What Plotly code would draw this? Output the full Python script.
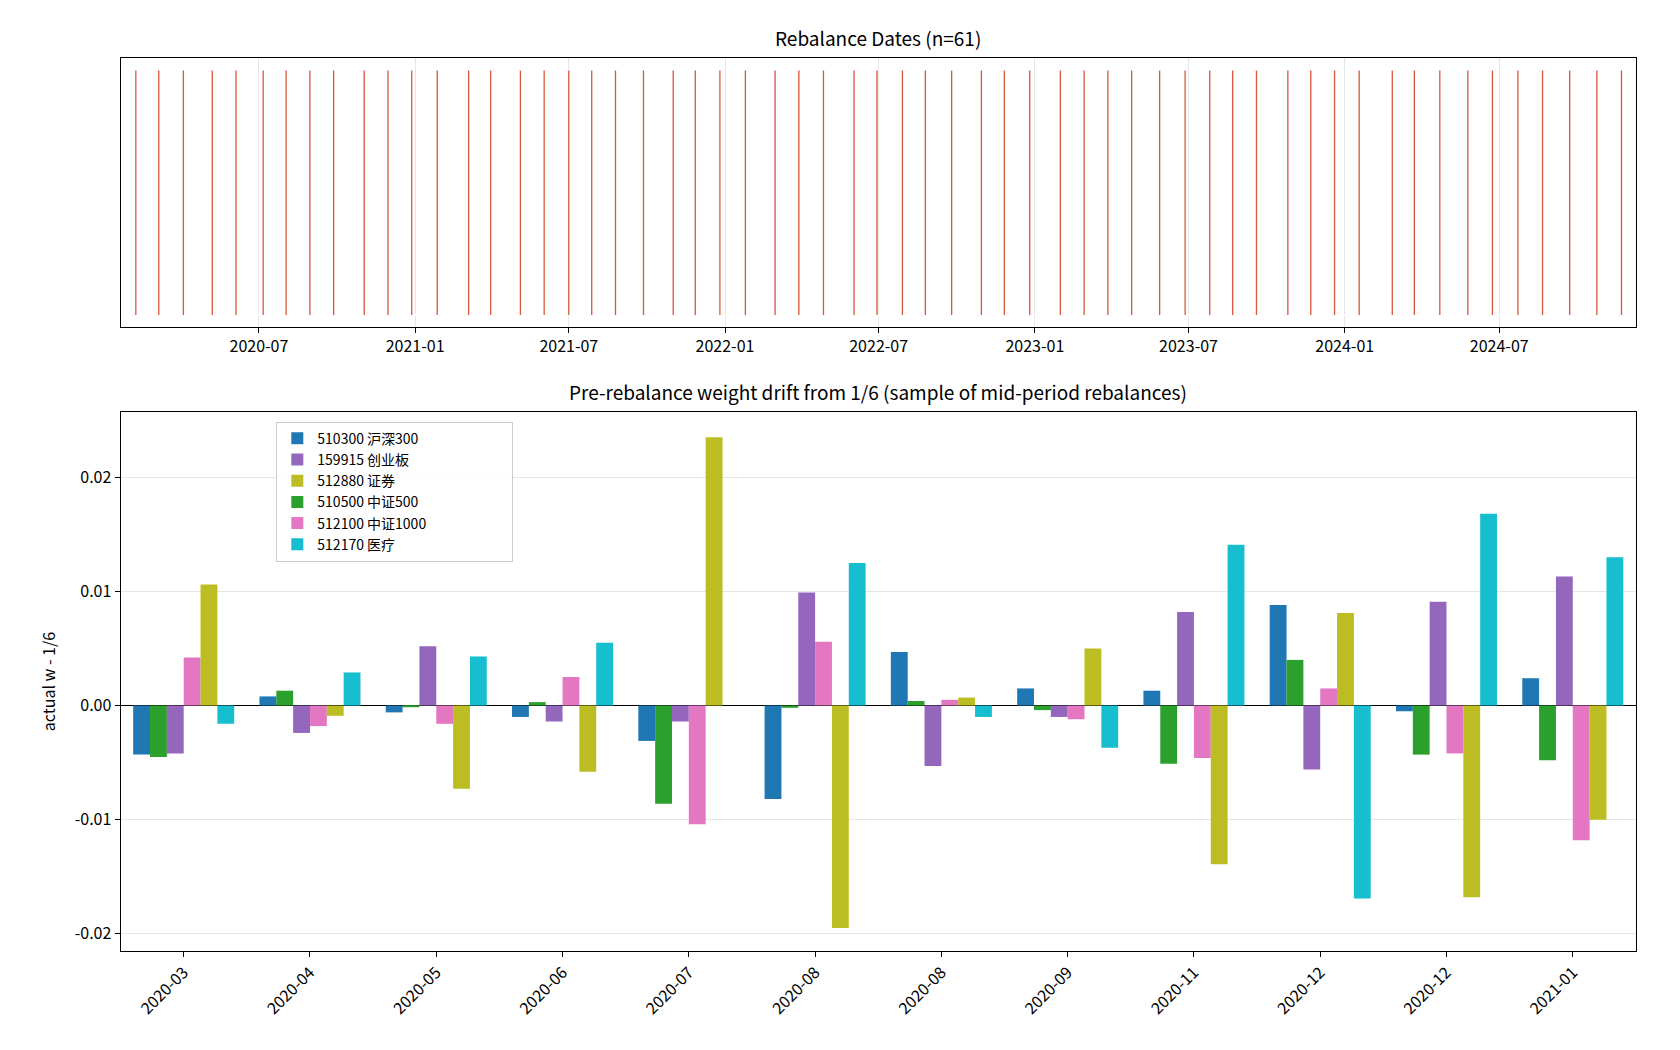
import plotly.graph_objects as go

rebalance_dates = [
 "2020-02-07","2020-03-05","2020-04-03","2020-05-07","2020-06-04","2020-07-06","2020-08-02","2020-08-30",
 "2020-09-27","2020-11-02","2020-11-30","2020-12-28","2021-01-27","2021-03-05","2021-03-31","2021-05-05",
 "2021-06-02","2021-07-01","2021-07-28","2021-08-25","2021-09-27","2021-11-01","2021-11-27","2021-12-26",
 "2022-01-25","2022-03-01","2022-03-29","2022-04-27","2022-06-02","2022-06-29","2022-07-29","2022-08-25",
 "2022-09-25","2022-10-30","2022-11-26","2022-12-26","2023-01-31","2023-02-28","2023-03-28","2023-04-25",
 "2023-05-28","2023-06-27","2023-07-26","2023-08-22","2023-09-19","2023-10-26","2023-11-22","2023-12-20",
 "2024-01-18","2024-02-26","2024-03-23","2024-04-22","2024-05-25","2024-06-23","2024-07-23","2024-08-21",
 "2024-09-22","2024-10-24","2024-11-22"]

group_labels = ["2020-03","2020-04","2020-05","2020-06","2020-07","2020-08","2020-08","2020-09",
                "2020-11","2020-12","2020-12","2021-01"]
series_names = ["510300 沪深300","510500 中证500","159915 创业板","512100 中证1000","512880 证券","512170 医疗"]
series_colors = ["#1f77b4","#2ca02c","#9467bd","#e377c2","#bcbd22","#17becf"]
drift = [
 [-0.0043,0.0008,-0.0006,-0.0010,-0.0031,-0.0082,0.0047,0.0015,0.0013,0.0088,-0.0005,0.0024],
 [-0.0045,0.0013,-0.0001,0.0003,-0.0086,-0.0002,0.0004,-0.0004,-0.0051,0.0040,-0.0043,-0.0048],
 [-0.0042,-0.0024,0.0052,-0.0014,-0.0014,0.0099,-0.0053,-0.0010,0.0082,-0.0056,0.0091,0.0113],
 [0.0042,-0.0018,-0.0016,0.0025,-0.0104,0.0056,0.0005,-0.0012,-0.0046,0.0015,-0.0042,-0.0118],
 [0.0106,-0.0009,-0.0073,-0.0058,0.0235,-0.0195,0.0007,0.0050,-0.0139,0.0081,-0.0168,-0.0100],
 [-0.0016,0.0029,0.0043,0.0055,0.0000,0.0125,-0.0010,-0.0037,0.0141,-0.0169,0.0168,0.0130],
]
legend_rank = [1,4,2,5,3,6]

FONT = "Noto Sans CJK JP"
fig = go.Figure()

ex, ey = [], []
for d in rebalance_dates:
    ex += [d, d, None]; ey += [0, 1, None]
fig.add_trace(go.Scatter(x=ex, y=ey, mode="lines", line=dict(color="#d9573b", width=1.3),
                         showlegend=False, hoverinfo="skip", xaxis="x", yaxis="y"))

xs = list(range(len(group_labels)))
for name, col, vals, rk in zip(series_names, series_colors, drift, legend_rank):
    fig.add_trace(go.Bar(x=xs, y=vals, name=name, marker=dict(color=col, line_width=0),
                         legendrank=rk, xaxis="x2", yaxis="y2"))

axis_common = dict(showline=True, linecolor="black", linewidth=1, mirror=True,
                   ticks="outside", ticklen=5, tickcolor="black", gridcolor="#e6e6e6",
                   tickfont=dict(size=16, color="black"))
fig.update_layout(
    width=1680, height=1050, margin=dict(l=0, r=0, t=0, b=0),
    paper_bgcolor="white", plot_bgcolor="white",
    font=dict(family=FONT, color="black"),
    barmode="group", bargap=0.2, bargroupgap=0,
    xaxis=dict(domain=[0.067, 0.969], anchor="y", type="date",
               range=["2020-01-20", "2024-12-09"], dtick="M6", tick0="2020-07-01",
               tickformat="%Y-%m", showgrid=True, **axis_common),
    yaxis=dict(domain=[0.696, 0.952], anchor="x", range=[-0.05, 1.05],
               showticklabels=False, showgrid=False, ticks="",
               showline=True, linecolor="black", mirror=True),
    xaxis2=dict(domain=[0.067, 0.969], anchor="y2", range=[-0.5, 11.5],
                tickmode="array", tickvals=xs, ticktext=group_labels, tickangle=-45,
                showgrid=False, **axis_common),
    yaxis2=dict(domain=[0.102, 0.615], anchor="x2", range=[-0.0215, 0.0257],
                tickvals=[-0.02, -0.01, 0, 0.01, 0.02],
                ticktext=["-0.02", "-0.01", "0.00", "0.01", "0.02"],
                zeroline=True, zerolinecolor="black", zerolinewidth=1.2,
                showgrid=True, title=dict(text="actual w - 1/6", font=dict(size=16)),
                **axis_common),
    legend=dict(orientation="h", x=0.645, xanchor="left", y=0.606, yanchor="top",
                entrywidth=190, bgcolor="rgba(255,255,255,0.85)", bordercolor="#cccccc", borderwidth=1,
                font=dict(size=14), traceorder="normal", tracegroupgap=0),
    annotations=[
        dict(text="Rebalance Dates (n=61)", x=0.518, y=0.957, xref="paper", yref="paper",
             xanchor="center", yanchor="bottom", showarrow=False, font=dict(size=19)),
        dict(text="Pre-rebalance weight drift from 1/6 (sample of mid-period rebalances)",
             x=0.518, y=0.620, xref="paper", yref="paper",
             xanchor="center", yanchor="bottom", showarrow=False, font=dict(size=19)),
    ],
)
fig.write_html("out.html")
